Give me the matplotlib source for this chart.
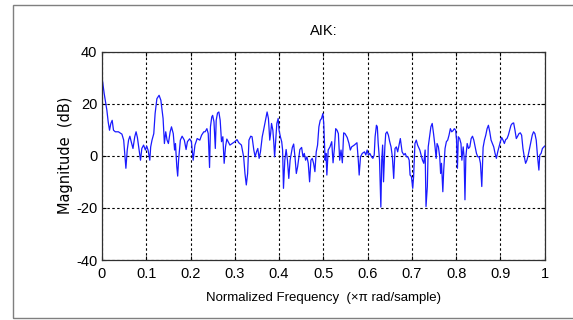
import matplotlib
matplotlib.use('Agg')
import matplotlib.pyplot as plt
from matplotlib.patches import Rectangle

# Magnitude response samples (normalized frequency, dB)
freq = [
    0.000, 0.005, 0.011, 0.014, 0.017, 0.020, 0.023, 0.026, 0.030, 0.037,
    0.045, 0.049, 0.054, 0.057, 0.060, 0.063, 0.066, 0.070, 0.074, 0.077,
    0.080, 0.083, 0.087, 0.090, 0.094, 0.098, 0.101, 0.104, 0.108, 0.110,
    0.113, 0.117, 0.120, 0.124, 0.129, 0.133, 0.138, 0.141, 0.144, 0.147,
    0.150, 0.154, 0.157, 0.161, 0.164, 0.166, 0.169, 0.171, 0.173, 0.177,
    0.181, 0.186, 0.190, 0.193, 0.198, 0.202, 0.206, 0.210, 0.215, 0.221,
    0.225, 0.230,
    0.233, 0.237, 0.240, 0.243, 0.245, 0.248, 0.250, 0.253, 0.256, 0.258,
    0.261, 0.264, 0.267, 0.270, 0.273, 0.276, 0.279, 0.282, 0.285, 0.289,
    0.294, 0.300, 0.305, 0.309, 0.315, 0.320, 0.323, 0.326, 0.329, 0.332,
    0.336, 0.339, 0.343, 0.346, 0.349, 0.352, 0.355, 0.358, 0.362, 0.365,
    0.370, 0.373, 0.376, 0.379, 0.381, 0.383, 0.386, 0.388, 0.390, 0.393,
    0.395, 0.398, 0.400, 0.403, 0.406, 0.408, 0.410, 0.413, 0.416, 0.419,
    0.422, 0.425, 0.430, 0.433, 0.436, 0.439, 0.442, 0.447, 0.451, 0.454,
    0.457, 0.460, 0.463, 0.466, 0.469, 0.472, 0.475, 0.478,
    0.481, 0.484, 0.487, 0.490, 0.493, 0.496, 0.499, 0.501, 0.504, 0.506,
    0.508, 0.511, 0.515, 0.519, 0.522, 0.525, 0.528, 0.531, 0.534, 0.537,
    0.540, 0.543, 0.546, 0.549, 0.554, 0.558, 0.561, 0.564, 0.570, 0.576,
    0.579, 0.581, 0.584, 0.588, 0.593, 0.596, 0.599, 0.602, 0.605, 0.609,
    0.612, 0.615, 0.617, 0.620, 0.622, 0.624, 0.627, 0.630, 0.632, 0.634,
    0.636, 0.639, 0.641, 0.644, 0.647, 0.650, 0.653, 0.656, 0.659, 0.662,
    0.665, 0.668, 0.671, 0.674, 0.676, 0.678, 0.682, 0.685, 0.688, 0.691,
    0.694, 0.696, 0.699, 0.702, 0.704, 0.707, 0.710, 0.713, 0.718, 0.721,
    0.724, 0.727,
    0.730, 0.732, 0.735, 0.737, 0.740, 0.743, 0.746, 0.749, 0.752, 0.755,
    0.757, 0.760, 0.763, 0.765, 0.767, 0.770, 0.772, 0.775, 0.778, 0.781,
    0.784, 0.787, 0.790, 0.793, 0.796, 0.799, 0.801, 0.803, 0.805, 0.808,
    0.811, 0.813, 0.816, 0.818, 0.820, 0.822, 0.825, 0.828, 0.831, 0.834,
    0.837, 0.840, 0.843, 0.846, 0.849, 0.852, 0.855, 0.858, 0.861, 0.864,
    0.867, 0.870, 0.873, 0.876, 0.879, 0.882, 0.885, 0.888, 0.891, 0.894,
    0.897, 0.900, 0.903, 0.906, 0.909, 0.912, 0.915, 0.918, 0.921, 0.924,
    0.927, 0.930, 0.933, 0.936, 0.939, 0.942, 0.945, 0.948, 0.951, 0.954,
    0.957, 0.960, 0.963, 0.966, 0.969, 0.972, 0.975, 0.978, 0.981, 0.984,
    0.987, 0.989, 0.992, 0.995, 1.000,
]

mag_db = [
    30.2, 23.8, 17.5, 13.0, 9.8, 12.4, 13.6, 9.8, 9.2, 9.2,
    8.3, 6.0, -4.8, 2.2, 6.0, 7.5, 5.4, 2.8, 7.3, 9.2,
    7.0, 3.2, -1.7, 2.8, 4.1, 2.2, 3.7, 2.2, -1.7, 3.4,
    6.0, 8.5, 16.2, 21.9, 23.2, 21.3, 14.3, 4.7, 9.2, 6.0,
    4.7, 9.2, 11.1, 8.5, 2.2, 4.7, -4.2, -7.8, -1.7, 6.0,
    7.5, 6.0, 2.4, 5.4, 6.5, 5.4, -1.7, 4.1, 6.6, 6.0,
    7.9, 9.2,
    9.2, 10.4, 8.5, -4.5, 11.1, 14.9, 15.5, 13.0, 2.8, 13.6,
    16.4, 16.8, 13.6, 5.4, 7.3, -2.9, 3.4, 6.4, 5.4, 4.1,
    4.7, 5.4, 6.2, 5.0, 4.1, -0.4, -6.8, -11.2, -6.8, 6.0,
    7.5, 7.3, 2.2, -0.4, 1.5, 2.8, -1.0, 1.5, 7.3, 9.8,
    14.3, 16.8, 14.3, 6.0, 8.5, 12.4, 9.8, 5.4, -0.4, 7.3,
    12.4, 14.3, 9.8, 7.3, 5.4, 2.2, -12.5, -1.7, 2.4, -1.7,
    -8.7, -1.7, 3.2, 4.5, -0.4, -6.8, -4.2, 2.4, 3.2, -0.4,
    0.9, -1.7, -0.4, -2.9, -10.0, -1.7, -1.0, -2.9,
    -6.1, 1.5, 4.1, 11.1, 13.6, 14.3, 16.2, 12.4, -1.7, 0.9,
    -7.4, 2.2, 3.4, 5.4, -2.7, 2.8, 10.4, 9.8, 8.5, -1.7,
    2.2, -2.7, 8.8, 8.5, 7.0, 4.7, 2.2, 3.4, 4.1, 5.0,
    -1.7, -7.4, -0.4, 0.9, 1.5, 0.3, 2.2, 0.3, 0.9, -0.4,
    -1.0, 0.3, 7.3, 11.7, 11.1, 4.7, -1.7, -19.7, -1.7, 4.1,
    -10.0, 3.4, 8.5, 9.2, 7.9, 5.4, 3.4, -0.4, -8.7, 2.8,
    3.4, 1.5, 4.1, 6.6, 4.1, 1.5, 0.3, 0.9, -0.4, -0.4,
    -1.7, -7.4, -8.0, -12.5, -8.0, 4.7, 6.0, 4.1, 2.2, 0.3,
    -1.7, -2.9,
    2.2, -19.5, -11.8, 3.4, 7.3, 11.1, 12.4, 8.5, 4.1, -1.0,
    4.7, 3.4, -0.4, -6.8, -2.9, -13.8, -5.5, 2.8, 5.4, 6.0,
    7.9, 10.4, 9.2, 9.6, 10.4, 9.8, 6.0, -4.8, 7.3, 6.6,
    4.7, -1.7, 3.4, -0.4, -16.9, -0.4, 4.7, 2.8, 3.4, 6.6,
    7.5, 6.0, 3.4, 0.9, -0.4, -0.4, -2.9, -11.8, 3.2, 6.0,
    7.9, 10.4, 11.7, 9.2, 6.0, 4.7, 3.4, 0.9, -1.0, 1.5,
    3.4, 5.4, 7.0, 6.0, 4.7, 6.2, 6.6, 7.9, 9.8, 11.7,
    12.4, 12.6, 9.8, 6.6, 7.5, 8.5, 8.8, 7.9, 2.8, -0.4,
    -2.9, -1.7, 0.3, 2.8, 5.4, 7.9, 9.2, 8.5, 6.0, -0.4,
    -5.5, 0.3, 0.9, 2.8, 3.7,
]

x_ticks = [0, 0.1, 0.2, 0.3, 0.4, 0.5, 0.6, 0.7, 0.8, 0.9, 1]
x_tick_labels = ['0', '0.1', '0.2', '0.3', '0.4', '0.5', '0.6', '0.7', '0.8', '0.9', '1']
y_ticks = [-40, -20, 0, 20, 40]

plt.rcParams['axes.unicode_minus'] = False
plt.rcParams['font.family'] = ['Liberation Sans', 'DejaVu Sans']

fig = plt.figure(figsize=(5.73, 3.20), dpi=100)
fig.patch.set_facecolor('white')

# thin frame around the figure
fig.patches.append(Rectangle((12.5 / 573, 2.5 / 320), 1.2, 313 / 320,
                             transform=fig.transFigure, fill=False,
                             edgecolor='#7f7f7f', linewidth=1.0))

ax = fig.add_axes([0.178, 0.1875, 0.7725, 0.6515])
ax.plot(freq, mag_db, color='#1a1aff', linewidth=0.9)

ax.set_xlim(0, 1)
ax.set_ylim(-40, 40)
ax.set_xticks(x_ticks)
ax.set_xticklabels(x_tick_labels)
ax.set_yticks(y_ticks)

ax.grid(True, color='black', linestyle=(0, (2.2, 2.2)), linewidth=0.8)
ax.tick_params(direction='in', length=3, width=0.8, top=True, right=True,
               labelsize=10.5, pad=5)
ax.tick_params(axis='y', pad=3.5)
for sp in ax.spines.values():
    sp.set_color('#303030')
    sp.set_linewidth(0.9)

ax.set_title('AIK:', fontsize=10.5, pad=12)
ax.set_xlabel('Normalized Frequency  (\u00d7\u03c0 rad/sample)', fontsize=9.5,
              labelpad=8)
ax.set_ylabel('Magnitude  (dB)', family='DejaVu Sans', fontsize=10.5,
              labelpad=2)

fig.savefig('out.png', dpi=100)
